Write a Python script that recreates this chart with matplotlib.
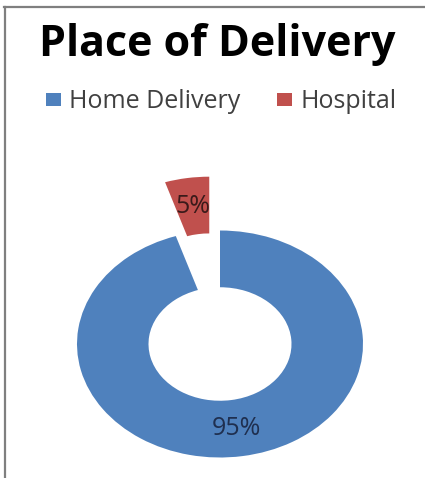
import matplotlib
matplotlib.use("Agg")
import matplotlib.pyplot as plt
from matplotlib.lines import Line2D

labels = ["Home Delivery", "Hospital"]
values = [95, 5]
colors = ["#4F81BD", "#C0504D"]
explode = [0, 0.48]
label_colors = ["#1F2F4F", "#3A1A1A"]

W, H = 425, 478
fig = plt.figure(figsize=(W / 100, H / 100), dpi=100)
plt.rcParams['font.family'] = ['Open Sans', 'DejaVu Sans']

# frame lines (top and left edge of the original screenshot)
fig.add_artist(Line2D([4 / W, 1], [1 - 7 / H, 1 - 7 / H], color="#7f7f7f", lw=1.6))
fig.add_artist(Line2D([5 / W, 5 / W], [0, 1 - 7 / H], color="#7f7f7f", lw=1.6))

# donut is stretched horizontally in the picture: 143 px vs 113.5 px per unit
cx, cy = 220, H - 344
rx, ry = 143, 113.5
x0, x1 = -1.4, 1.4
y0, y1 = -1.15, 1.9
ax = fig.add_axes([(cx + x0 * rx) / W, (cy + y0 * ry) / H,
                   (x1 - x0) * rx / W, (y1 - y0) * ry / H])

wedges, texts, autotexts = ax.pie(values, colors=colors, explode=explode,
                                  startangle=90, counterclock=False,
                                  autopct='%d%%', pctdistance=0.75,
                                  wedgeprops=dict(width=0.5, linewidth=0),
                                  textprops=dict(fontsize=18))
for t, c in zip(autotexts, label_colors):
    t.set_color(c)
ax.set_aspect('auto')
ax.set_xlim(x0, x1)
ax.set_ylim(y0, y1)
ax.axis('off')

fig.text(217 / W, 1 - 56.5 / H, "Place of Delivery", ha='center', va='baseline',
         fontsize=31, fontweight='bold', color='black')

fig.legend(wedges, labels, loc='center', bbox_to_anchor=(221 / W, 1 - 102 / H),
           ncol=2, frameon=False, fontsize=18, handlelength=0.62, handleheight=0.46,
           handletextpad=0.32, columnspacing=1.45, labelcolor="#404040")

fig.savefig("out.png", dpi=100)
